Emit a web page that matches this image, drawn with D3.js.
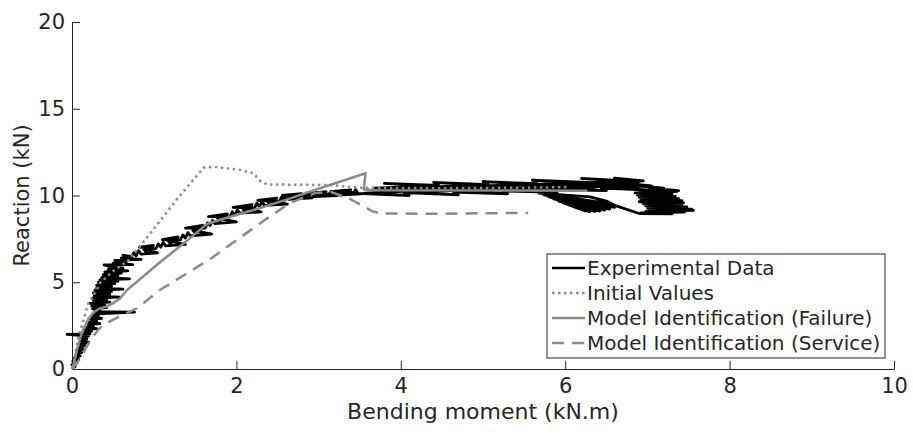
<!DOCTYPE html>
<html>
<head>
<meta charset="utf-8">
<script src="https://cdn.jsdelivr.net/npm/d3@7"></script>
<style>
  html, body { margin: 0; padding: 0; background: #fff; }
  svg { display: block; }
  text { font-family: "DejaVu Sans", Verdana, sans-serif; fill: #262626; }
</style>
</head>
<body>
<svg id="chart" width="913" height="438"></svg>
<script>
// ---------------- DATA ----------------
const xTicks = [0, 2, 4, 6, 8, 10];
const yTicks = [0, 5, 10, 15, 20];
const xLabel = "Bending moment (kN.m)";
const yLabel = "Reaction (kN)";
const legendLabels = ["Experimental Data", "Initial Values", "Model Identification (Failure)", "Model Identification (Service)"];

const experimentalData = [
  [0,0],[0.04,0.15],[0.0,0.25],[0.06,0.35],[0.01,0.45],[0.08,0.55],[0.03,0.65],[0.1,0.75],[0.05,0.85],[0.12,0.95],
  [0.06,1.05],[0.14,1.15],[0.08,1.25],[0.16,1.35],[0.1,1.45],[0.2,1.55],[0.11,1.62],[0.18,1.72],[0.12,1.8],[0.2,1.9],
  [-0.06,2.0],[0.22,2.03],[0.15,2.1],[0.24,2.18],[0.16,2.26],[0.3,2.33],[0.18,2.4],[0.26,2.48],[0.2,2.56],[0.34,2.62],
  [0.21,2.7],[0.3,2.78],[0.23,2.86],[0.36,2.92],[0.24,3.0],[0.32,3.08],[0.25,3.16],[0.76,3.28],[0.28,3.3],[0.34,3.38],[0.25,3.46],
  [0.42,3.54],[0.24,3.62],[0.4,3.7],[0.22,3.78],[0.46,3.85],[0.26,3.92],[0.42,4.0],[0.25,4.08],[0.58,4.14],[0.27,4.22],
  [0.46,4.3],[0.26,4.38],[0.48,4.46],[0.28,4.54],[0.62,4.6],[0.3,4.68],[0.48,4.76],[0.3,4.84],[0.52,4.92],[0.32,5.0],
  [0.56,5.06],[0.34,5.14],[0.7,5.2],[0.36,5.28],[0.56,5.36],[0.38,5.44],[0.6,5.52],[0.4,5.6],[0.68,5.66],[0.44,5.74],
  [0.62,5.82],[0.46,5.9],[0.39,6.0],[0.74,6.02],[0.5,6.1],[0.66,6.18],[0.52,6.26],[0.84,6.32],[0.6,6.4],[0.72,6.48],[0.62,6.56],
  [0.72,6.41],[0.75,6.70],[0.78,6.52],[0.81,6.82],[0.84,6.62],[1.04,6.70],[0.87,6.92],[0.90,6.74],[0.93,7.02],[0.96,6.84],
  [0.99,7.12],[0.82,7.02],[1.02,6.94],[1.05,7.21],[1.08,7.02],[1.11,7.29],[1.14,7.10],[1.38,7.18],[1.17,7.38],[1.20,7.19],
  [1.23,7.48],[1.26,7.30],[1.29,7.61],[1.10,7.45],[1.32,7.44],[1.35,7.73],[1.38,7.55],[1.41,7.86],[1.44,7.68],[1.70,7.78],
  [1.47,7.99],[1.50,7.84],[1.53,8.14],[1.56,7.97],[1.59,8.28],[1.38,8.12],[1.62,8.12],[1.65,8.43],[1.68,8.26],[1.71,8.56],
  [1.74,8.38],[2.0,8.48],[1.77,8.69],[1.80,8.51],[1.83,8.81],[1.86,8.64],[1.89,8.94],[1.66,8.78],[1.92,8.76],[1.95,9.06],
  [1.98,8.87],[2.01,9.17],[2.04,8.98],[2.30,9.06],[2.07,9.28],[2.10,9.09],[2.13,9.39],[2.16,9.20],[2.19,9.48],[1.96,9.32],
  [2.22,9.28],[2.25,9.56],[2.28,9.36],[2.31,9.63],[2.34,9.43],[2.62,9.50],[2.37,9.71],[2.40,9.51],[2.43,9.78],[2.46,9.58],
  [2.49,9.85],[2.26,9.72],[2.52,9.64],[2.55,9.92],[2.58,9.71],[2.61,9.98],[2.64,9.78],[2.92,9.86],[2.67,10.04],[2.70,9.82],
  [2.73,10.08],[2.76,9.85],[2.79,10.11],[2.56,10.0],[2.82,9.88],[2.85,10.14],[2.88,9.91],[2.91,10.16],[2.94,9.93],[3.22,10.0],
  [2.97,10.18],[3.00,9.95],[3.03,10.2],[3.06,9.97],[3.09,10.22],[2.88,10.12],[3.12,9.99],[3.15,10.24],[3.18,10.01],[3.21,10.26],
  [3.24,10.03],[3.52,10.1],[3.27,10.28],[3.30,10.06],[3.33,10.31],[3.36,10.08],[3.39,10.33],[3.18,10.24],[3.42,10.1],[3.45,10.35],[3.48,10.12],
  [4.10,10.00],[3.56,10.14],[4.22,10.28],[3.68,10.42],[4.34,10.56],[3.80,10.70],[4.46,10.58],[3.92,10.44],[4.58,10.30],[4.04,10.16],
  [4.70,10.04],[4.16,10.18],[4.82,10.32],[4.28,10.46],[4.94,10.60],[4.40,10.76],[5.06,10.62],[4.52,10.48],[5.18,10.34],[4.64,10.20],
  [5.30,10.10],[4.76,10.24],[5.42,10.38],[4.88,10.52],[5.54,10.66],[5.00,10.80],[5.66,10.68],[5.12,10.54],[5.78,10.40],[5.24,10.26],
  [5.90,10.18],[5.36,10.32],[6.02,10.46],[5.48,10.60],[6.14,10.74],[5.60,10.88],[6.26,10.76],[5.72,10.62],[6.38,10.48],[5.84,10.34],
  [6.50,10.28],[5.96,10.42],[6.62,10.56],[6.08,10.70],[6.74,10.84],[6.20,10.98],[6.82,10.82],[6.32,10.70],[6.98,10.56],[6.44,10.42],
  [7.10,10.30],[6.56,10.44],[7.05,10.56],[6.68,10.72],[6.95,10.84],[6.60,11.0],[6.9,10.8],[6.75,10.62],[7.2,10.42],[6.9,10.28],
  [7.36,10.22],[7.1,10.4],[7.38,10.28],
  [6.85,10.15],[7.3,10.1],[6.88,10.02],[7.34,9.95],[6.9,9.9],[7.38,9.82],[6.92,9.76],[7.42,9.7],[6.9,9.64],[7.44,9.58],
  [6.95,9.52],[7.42,9.46],[6.98,9.4],[7.48,9.34],[7.0,9.28],[7.54,9.22],[7.02,9.16],[7.56,9.14],[6.98,9.08],[7.45,9.04],
  [6.92,9.0],[7.3,8.94],[6.9,8.96],
  [6.62,9.4],[6.5,9.68],[6.3,9.92],[5.68,10.14],[6.56,9.52],[5.74,10.04],[6.6,9.32],[5.8,9.92],[6.54,9.22],[5.86,9.8],
  [6.48,9.15],[5.92,9.68],[6.42,9.1],[5.98,9.56],[6.36,9.08],[6.04,9.46],[6.3,9.07],[6.1,9.36],[6.24,9.12],
  [6.55,9.45],[5.84,9.86],[6.52,9.28],[5.96,9.62],[6.4,9.16]
];

const initialValues = [
  [0.02,0],[0.04,0.9],[0.08,1.86],[0.14,2.82],[0.2,3.8],[0.3,4.55],[0.34,4.95],[0.49,5.6],[0.69,6.28],
  [0.95,7.8],[1.27,9.74],[1.6,11.6],[1.72,11.66],[2.05,11.47],[2.2,11.3],[2.3,10.8],[2.37,10.64],
  [3.14,10.6],[3.5,10.45],[4.5,10.42],[5.5,10.45],[6.04,10.48]
];

const failureModel = [
  [0,0],[0.02,0.3],[0.06,1.1],[0.1,1.8],[0.14,2.3],[0.2,2.9],[0.26,3.25],[0.32,3.45],[0.42,3.6],[0.5,3.8],
  [0.58,4.05],[0.67,4.55],[1.07,6.15],[1.4,7.4],[1.64,8.35],[1.8,8.6],[2.2,9.15],[2.6,9.75],[3.1,10.55],
  [3.57,11.28],[3.55,10.35],[3.7,10.3],[6.27,10.28]
];

const serviceModel = [
  [0,0],[0.05,0.3],[0.1,0.6],[0.18,1.3],[0.26,1.9],[0.34,2.36],[0.46,2.75],[0.79,3.5],[1.07,4.55],[1.7,6.4],
  [2.31,8.47],[2.65,9.57],[2.96,10.14],[3.15,10.2],[3.36,9.86],[3.65,9.1],[3.75,8.96],[4.5,8.95],[5.55,9.0]
];

// ---------------- CHART ----------------
const svg = d3.select("#chart");
const plotLeft = 72, plotRight = 894, plotTop = 22, plotBottom = 369;
const x = d3.scaleLinear().domain([0, 10]).range([plotLeft, plotRight]);
const y = d3.scaleLinear().domain([0, 20]).range([plotBottom, plotTop]);
const ink = "#262626";

const line = d3.line().x(d => x(d[0])).y(d => y(d[1]));

// Axes (MATLAB style, inward ticks, no box)
const xAxis = svg.append("g").attr("transform", `translate(0,${plotBottom})`)
  .call(d3.axisBottom(x).tickValues(xTicks).tickSizeInner(-8).tickSizeOuter(0).tickPadding(9).tickFormat(d3.format("d")));
const yAxis = svg.append("g").attr("transform", `translate(${plotLeft},0)`)
  .call(d3.axisLeft(y).tickValues(yTicks).tickSizeInner(-8).tickSizeOuter(0).tickPadding(7).tickFormat(d3.format("d")));
[xAxis, yAxis].forEach(g => {
  g.selectAll("path, line").attr("stroke", ink).attr("stroke-width", 1);
  g.selectAll("text").attr("fill", ink).style("font-size", "21px").style("font-family", "DejaVu Sans");
});

svg.append("text").attr("x", (plotLeft + plotRight) / 2).attr("y", 419)
  .attr("text-anchor", "middle").style("font-size", "22px").text(xLabel);
svg.append("text").attr("transform", `translate(29,${(plotTop + plotBottom) / 2}) rotate(-90)`)
  .attr("text-anchor", "middle").style("font-size", "21px").text(yLabel);

// Series
const styles = [
  { data: experimentalData, color: "#000000", width: 2.8, dash: null, join: "round" },
  { data: initialValues, color: "#8c8c8c", width: 2.5, dash: "2.5,3.5", join: "miter" },
  { data: failureModel, color: "#8a8a8a", width: 2.5, dash: null, join: "miter" },
  { data: serviceModel, color: "#8a8a8a", width: 2.5, dash: "12,8", join: "miter" }
];
styles.forEach(s => {
  svg.append("path").datum(s.data).attr("d", line)
    .attr("fill", "none").attr("stroke", s.color).attr("stroke-width", s.width)
    .attr("stroke-linejoin", s.join).attr("stroke-miterlimit", 4)
    .attr("stroke-dasharray", s.dash);
});

// Legend
const lg = svg.append("g");
lg.append("rect").attr("x", 547).attr("y", 254).attr("width", 338).attr("height", 104)
  .attr("fill", "#fff").attr("stroke", ink).attr("stroke-width", 1);
legendLabels.forEach((lab, i) => {
  const cy = 268 + i * 25;
  const s = styles[i];
  lg.append("line").attr("x1", 552).attr("x2", 585).attr("y1", cy).attr("y2", cy)
    .attr("stroke", s.color).attr("stroke-width", i === 0 ? 2.5 : s.width).attr("stroke-dasharray", s.dash);
  lg.append("text").attr("x", 587).attr("y", cy).attr("dy", "0.35em")
    .style("font-size", "20px").text(lab);
});
</script>
</body>
</html>
